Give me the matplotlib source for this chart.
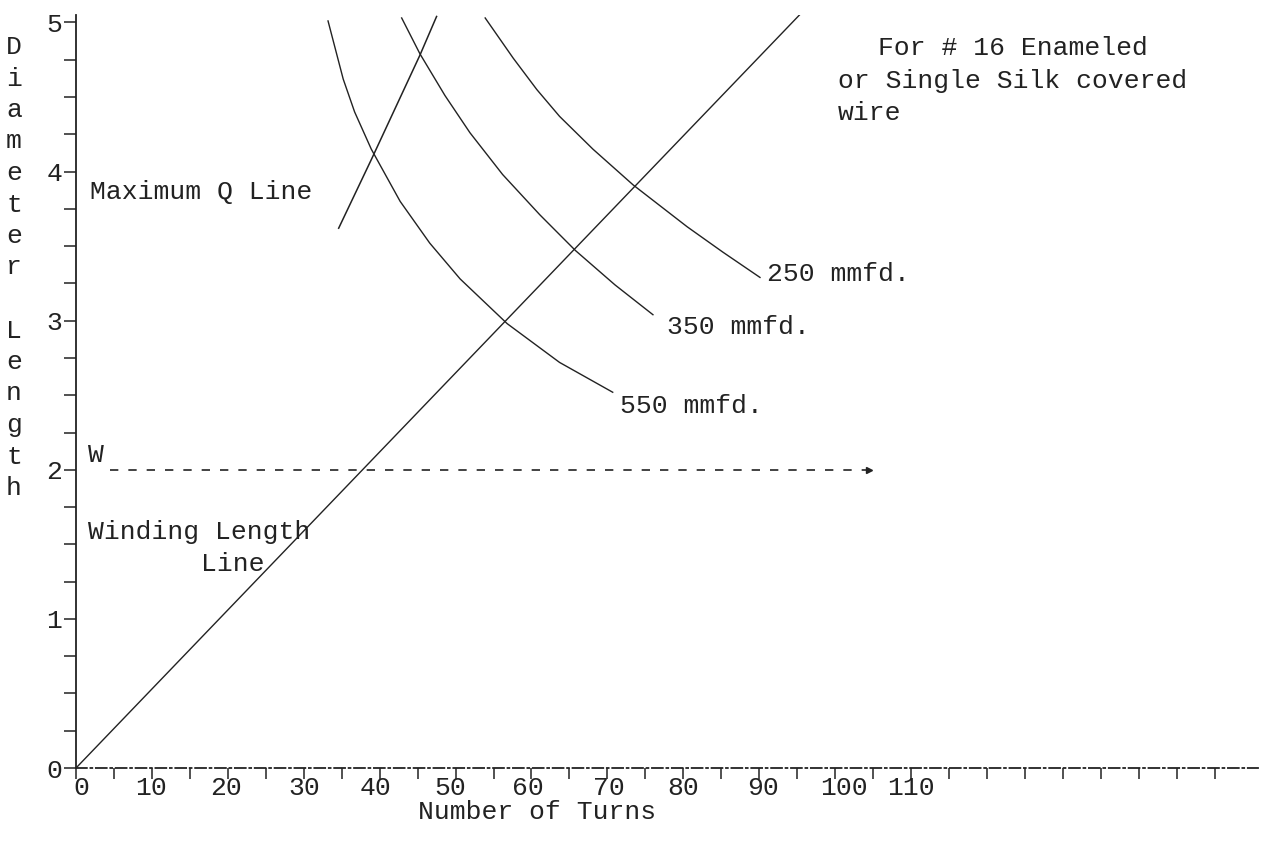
import matplotlib
matplotlib.use("Agg")
import matplotlib.pyplot as plt

# ------------------------------------------------------------------
# Data (Number of Turns vs Diameter/Length)
# ------------------------------------------------------------------
winding_n = [0, 95.3]
winding_d = [0, 5.05]

maxq_n = [34.6, 38.9, 45.3, 47.5]
maxq_d = [3.62, 4.08, 4.78, 5.04]

c550_n = [33.2, 35.2, 36.7, 38.9, 42.7, 46.6, 50.6, 56.8, 63.7, 70.7]
c550_d = [5.01, 4.62, 4.40, 4.15, 3.80, 3.52, 3.28, 2.98, 2.72, 2.52]

c350_n = [42.9, 45.3, 48.6, 51.9, 56.2, 61.1, 65.8, 71.0, 76.0]
c350_d = [5.03, 4.79, 4.51, 4.26, 3.98, 3.71, 3.47, 3.24, 3.04]

c250_n = [53.9, 57.6, 60.7, 63.7, 68.1, 73.4, 80.5, 85.2, 90.1]
c250_d = [5.03, 4.76, 4.55, 4.37, 4.15, 3.91, 3.63, 3.46, 3.29]

w_level = 2.0
w_start, w_end = 4.5, 104.5

x_ticks = list(range(0, 155, 5))
# typed tick labels sit a little off the tick marks
x_label_text = ["0", "10", "20", "30", "40", "50", "60", "70", "80", "90", "100", "110"]
x_label_pos = [0.7, 9.9, 19.8, 30.0, 39.5, 49.3, 59.5, 70.2, 80.0, 90.5, 101.1, 110.0]
y_ticks = [0, 1, 2, 3, 4, 5]
y_minor = [i * 0.25 for i in range(21)]

FONT = "Liberation Mono"
FS = 19
INK = "#222222"

plt.rcParams["font.family"] = [FONT, "DejaVu Sans Mono"]

fig = plt.figure(figsize=(12.73, 8.51), dpi=100)
ax = fig.add_axes([0.0597, 0.0975, 0.9285, 0.8849])

# curves
ax.plot(winding_n, winding_d, color=INK, lw=1.0)
ax.plot(maxq_n, maxq_d, color=INK, lw=1.1)
ax.plot(c550_n, c550_d, color=INK, lw=1.0)
ax.plot(c350_n, c350_d, color=INK, lw=1.0)
ax.plot(c250_n, c250_d, color=INK, lw=1.0)

# W level dashed line with arrow head
ax.plot([w_start, w_end], [w_level, w_level], color=INK, lw=1.2,
        linestyle=(0, (5, 6)), marker=">", markevery=[1], markersize=5)

# curve labels
ax.text(c250_n[-1] + 0.9, c250_d[-1] + 0.02, "250 mmfd.", fontsize=FS, va="center", color=INK)
ax.text(c350_n[-1] + 1.8, c350_d[-1] - 0.08, "350 mmfd.", fontsize=FS, va="center", color=INK)
ax.text(c550_n[-1] + 0.9, c550_d[-1] - 0.09, "550 mmfd.", fontsize=FS, va="center", color=INK)

ax.text(1.8, 3.86, "Maximum Q Line", fontsize=FS, va="center", color=INK)
ax.text(1.6, 2.10, "W", fontsize=FS, va="center", color=INK)
ax.text(1.6, 1.58, "Winding Length", fontsize=FS, va="center", color=INK)
ax.text(16.5, 1.37, "Line", fontsize=FS, va="center", color=INK)

ax.text(105.6, 4.83, "For # 16 Enameled", fontsize=FS, va="center", color=INK)
ax.text(100.4, 4.61, "or Single Silk covered", fontsize=FS, va="center", color=INK)
ax.text(100.4, 4.39, "wire", fontsize=FS, va="center", color=INK)

# axes
ax.set_xlim(0, 155.7)
ax.set_ylim(0, 5.05)
ax.spines["top"].set_visible(False)
ax.spines["right"].set_visible(False)
ax.spines["left"].set_linewidth(1.3)
ax.spines["left"].set_color(INK)
ax.spines["bottom"].set_linewidth(1.3)
ax.spines["bottom"].set_color(INK)
ax.spines["bottom"].set_linestyle((0, (6, 2, 1, 2)))

ax.set_xticks(x_ticks)
ax.set_xticklabels([])
ax.set_yticks(y_ticks)
ax.set_yticklabels([str(t) for t in y_ticks], fontsize=FS, color=INK)
ax.set_yticks(y_minor, minor=True)
ax.tick_params(axis="x", direction="out", length=8, width=1.1, colors=INK)
ax.tick_params(axis="y", which="both", direction="out", length=9, width=1.1, pad=1, colors=INK)

xt = ax.get_xaxis_transform()
for pos, lab in zip(x_label_pos, x_label_text):
    ax.text(pos, -0.027, lab, fontsize=FS, ha="center", va="center", color=INK, transform=xt)

ax.text(60.8, -0.059, "Number of Turns", fontsize=FS, ha="center", va="center",
        color=INK, transform=xt)

# vertical typed axis title
letters = list("Diameter") + [""] + list("Length")
for i, ch in enumerate(letters):
    if ch:
        fig.text(14 / 1273, 1 - (47 + i * 31.5) / 851, ch, fontsize=FS,
                 ha="center", va="center", color=INK)

fig.savefig("out.png", dpi=100, facecolor="white")
